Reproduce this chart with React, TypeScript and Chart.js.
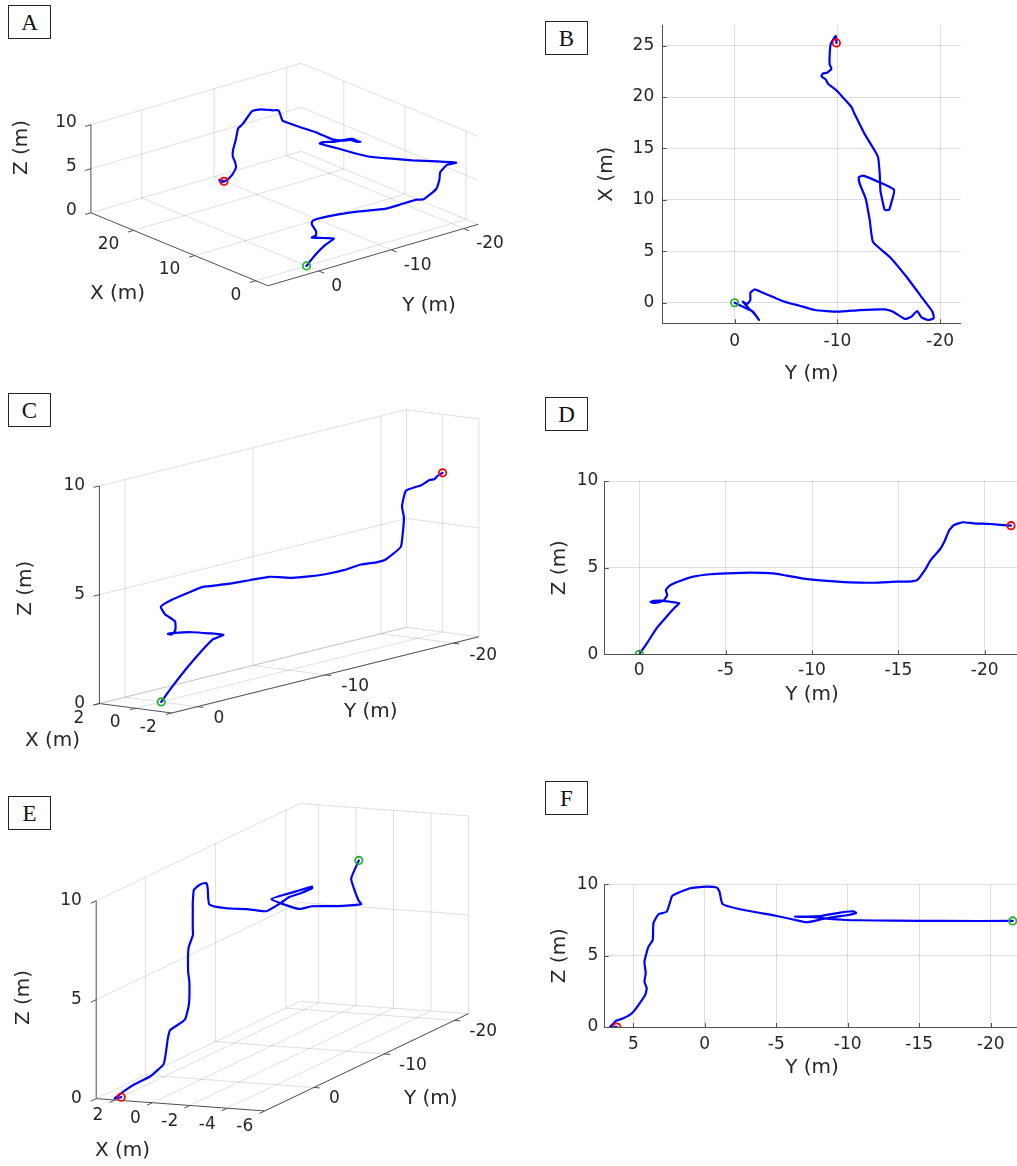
import React, { useEffect, useRef } from "react";
import { Chart, registerables } from "chart.js";

Chart.register(...registerables);

// ================= DATA =================
// Trajectory 1 (panels A and B)
const T1_X = [0, -0.39, -0.87, -1.68, -1.1, -0.55, 0.1, -0.13, 0.26, 0.97, 1.29, 0.97, 0.42, 0.0, -0.29, -0.71, -0.87, -0.71, -0.65, -0.87, -1.58, -1.35, -0.81, -1.42, -1.68, -1.52, -0.87, 0.35, 2.52, 4.45, 5.9, 8.0, 10.1, 11.55, 12.19, 12.35, 11.77, 10.97, 9.77, 9.03, 9.03, 9.94, 10.9, 12.52, 14.13, 14.77, 16.39, 17.68, 18.0, 18.4, 19.03, 19.94, 20.65, 21.29, 21.71, 21.85, 22.03, 22.29, 22.35, 22.74, 23.16, 24.13, 25.16, 25.65, 25.94, 25.48, 25.26];
const T1_Y = [0, -0.81, -1.79, -2.37, -1.95, -1.4, -0.81, -1.2, -1.53, -1.53, -1.95, -2.76, -4.06, -5.19, -6.33, -7.79, -10.06, -12.18, -14.61, -15.42, -16.56, -17.21, -17.76, -18.18, -18.83, -19.38, -19.25, -18.34, -16.72, -15.1, -13.47, -13.15, -12.76, -12.18, -12.08, -12.5, -13.96, -15.52, -15.26, -15.03, -14.61, -14.38, -14.19, -14.12, -13.96, -13.64, -12.66, -12.01, -11.85, -11.65, -11.36, -10.55, -9.9, -9.09, -8.86, -8.65, -8.44, -8.6, -8.99, -9.42, -9.25, -9.25, -9.35, -9.64, -9.84, -9.9, -9.9];
const T1_Z = [0, 1.1, 2.15, 3.0, 3.0, 3.0, 3.0, 3.2, 3.5, 4.1, 4.3, 4.5, 4.65, 4.7, 4.7, 4.6, 4.3, 4.2, 4.2, 4.1, 5.2, 6.1, 6.6, 7.5, 7.6, 7.5, 7.4, 7.35, 7.25, 7.3, 7.5, 7.4, 7.4, 7.5, 7.5, 7.5, 7.4, 7.6, 7.7, 7.9, 8.0, 8.0, 7.7, 7.4, 7.5, 7.7, 8.1, 8.4, 8.5, 9.6, 9.5, 9.55, 9.3, 7.8, 7.3, 6.0, 4.9, 4.0, 3.2, 2.4, 1.5, 0.6, 0.05, 0, 0, 0, 0];

// Trajectory 2 (panels C and D)
const T2_X = [0, -0.25, -0.72, -1.05, -1.37, -1.8, -1.3, -0.8, -0.2, 0.1, 0.05, 0.2, 0.38, 0.88, 1.28, 1.08, 0.72, 0.6, 0.0, -0.4, -0.5, -0.5, -0.5, -0.5, -0.5, -0.5, -0.5, -0.8, -1.0, -1.54, -1.42, -1.1, -0.82, -0.83, -1.49, -1.56, -1.42, -0.91, -0.33];
const T2_Y = [0, -0.42, -1.0, -1.58, -2.07, -2.32, -1.87, -1.29, -0.81, -0.66, -0.91, -1.39, -1.62, -1.54, -1.78, -2.36, -3.13, -4.09, -5.06, -6.41, -7.76, -8.53, -9.5, -10.66, -12.2, -13.55, -14.9, -15.77, -16.1, -16.54, -16.87, -17.41, -17.66, -17.95, -18.22, -18.76, -19.34, -20.31, -21.52];
const T2_Z = [0, 0.6, 1.5, 2.17, 2.71, 2.94, 3.02, 3.1, 3.08, 3.02, 2.96, 3.08, 3.42, 3.71, 3.98, 4.23, 4.48, 4.62, 4.67, 4.71, 4.67, 4.54, 4.37, 4.25, 4.15, 4.13, 4.19, 4.21, 4.29, 4.87, 5.44, 6.06, 6.5, 7.17, 7.46, 7.62, 7.56, 7.52, 7.42];

// Trajectory 3 (panels E and F)
const T3_X = [-0.32, -1.73, -3.26, -4.32, -4.8, -4.1, -3.13, -2.84, -0.7, -1.54, -2.0, -1.93, -1.57, -1.22, -1.09, -0.79, -0.57, -0.53, -0.4, 0.05, 0.06, 0.07, 0.07, 0.07, 0.03, -0.35, -0.4, -0.53, -0.76, -0.65, -0.65, -0.83, -0.91, -0.66, 0.1, 0.28, 0.31, 0.28, 0.82, 1.44, 1.66, 2.02, 2.15, 1.98];
const T3_Y = [-21.54, -16.69, -13.19, -10.86, -9.93, -8.53, -7.37, -6.32, -8.07, -9.46, -10.4, -10.58, -9.93, -9.23, -8.18, -7.13, -6.32, -5.03, -2.47, -1.24, -1.03, -0.84, -0.14, 0.56, 1.03, 2.19, 2.31, 2.66, 3.24, 3.59, 3.64, 3.94, 4.22, 4.13, 4.22, 4.06, 4.17, 4.64, 5.1, 5.69, 6.2, 6.5, 6.62, 6.15];
const T3_Z = [7.43, 7.43, 7.45, 7.48, 7.5, 7.59, 7.71, 7.73, 7.78, 8.01, 8.11, 7.99, 7.83, 7.73, 7.55, 7.34, 7.5, 7.78, 8.25, 8.62, 9.49, 9.77, 9.84, 9.79, 9.72, 9.25, 9.14, 8.08, 7.9, 7.27, 6.1, 5.63, 4.58, 3.76, 3.18, 2.71, 2.24, 1.54, 0.96, 0.61, 0.44, 0.14, 0, 0];

// Axis limits and ticks
const Z_LIM = [0, 10];
const Z_TICKS = [0, 5, 10];
const Y_TICKS_3D = [0, -10, -20];
const A_XLIM = [-2, 27];
const A_YLIM = [-22, 7];
const A_XTICKS = [0, 10, 20];
const C_XLIM = [-2, 2];
const C_YLIM = [-22, 2];
const C_XTICKS = [2, 0, -2];
const E_XLIM = [-6, 3];
const E_YLIM = [-22, 7];
const E_XTICKS = [2, 0, -2, -4, -6];
const B_HLIM = [-22, 7];
const B_HTICKS = [0, -10, -20];
const B_VLIM = [-2, 27];
const B_VTICKS = [0, 5, 10, 15, 20, 25];
const D_HLIM = [-22, 2];
const D_HTICKS = [0, -5, -10, -15, -20];
const F_HLIM = [-22, 7];
const F_HTICKS = [5, 0, -5, -10, -15, -20];
const PANEL_LETTERS = ["A", "B", "C", "D", "E", "F"];

// ================= STYLE =================
const FONT = '"DejaVu Sans", sans-serif';
const TEXT = "#262626";
const GRID = "rgba(38,38,38,0.15)";
const AXIS = "rgb(80,80,80)";
const BLUE = "rgb(0,0,255)";
const GREEN = "rgb(40,180,40)";
const RED = "rgb(255,0,0)";
const TICK_FS = 17;
const TITLE_FS = 20;
const LINE_W = 2.2;
const TENSION = 0.15;

type Pt = [number, number];
interface View3D {
  xlim: number[]; ylim: number[]; zlim: number[];
  xticks: number[]; yticks: number[]; zticks: number[];
  origin: Pt; ex: Pt; ey: Pt; ez: Pt;
  xOff: Pt; yOff: Pt; zOff: Pt;
  xTitle: Pt; yTitle: Pt; zTitle: Pt;
}

const VIEW_A: View3D = {
  xlim: A_XLIM, ylim: A_YLIM, zlim: Z_LIM,
  xticks: A_XTICKS, yticks: Y_TICKS_3D, zticks: Z_TICKS,
  origin: [87.3, 213.3], ex: [-6.24, -2.59], ey: [-7.41, 2.18], ez: [0, -9.06],
  xOff: [-14.3, 14.5], yOff: [12.5, 15.5], zOff: [-14, -2],
  xTitle: [117.5, 294], yTitle: [429, 305.8], zTitle: [21.7, 147.5],
};
const VIEW_C: View3D = {
  xlim: C_XLIM, ylim: C_YLIM, zlim: Z_LIM,
  xticks: C_XTICKS, yticks: Y_TICKS_3D, zticks: Z_TICKS,
  origin: [96, 317], ex: [-18.5, -2.43], ey: [-13.08, 3.27], ez: [0, -22.4],
  xOff: [-15, 14.6], yOff: [16, 12], zOff: [-14.3, 0],
  xTitle: [52.5, 350.8], yTitle: [370.8, 321.7], zTitle: [25.8, 198.3],
};
const VIEW_E: View3D = {
  xlim: E_XLIM, ylim: E_YLIM, zlim: Z_LIM,
  xticks: E_XTICKS, yticks: Y_TICKS_3D, zticks: Z_TICKS,
  origin: [92.7, 322.3], ex: [-19.14, -1.41], ey: [-7.18, 3.45], ez: [0, -20.37],
  xOff: [-11.5, 16], yOff: [15, 11.5], zOff: [-14.4, 0],
  xTitle: [122.5, 370.3], yTitle: [430.8, 318.3], zTitle: [23.3, 217.5],
};

function project(v: View3D, x: number, y: number, z: number): Pt {
  const dx = x - v.xlim[1];
  const dy = y - v.ylim[1];
  const dz = z - v.zlim[0];
  return [
    v.origin[0] + dx * v.ex[0] + dy * v.ey[0] + dz * v.ez[0],
    v.origin[1] + dx * v.ex[1] + dy * v.ey[1] + dz * v.ez[1],
  ];
}

function axes3dPlugin(v: View3D) {
  return {
    id: "axes3d",
    beforeDatasetsDraw(chart: any) {
      const ctx: CanvasRenderingContext2D = chart.ctx;
      const sx = chart.scales.x;
      const sy = chart.scales.y;
      const P = (x: number, y: number, z: number): Pt => {
        const p = project(v, x, y, z);
        return [sx.getPixelForValue(p[0]), sy.getPixelForValue(p[1])];
      };
      const seg = (a: Pt, b: Pt, color: string, w: number) => {
        ctx.beginPath();
        ctx.moveTo(a[0], a[1]);
        ctx.lineTo(b[0], b[1]);
        ctx.strokeStyle = color;
        ctx.lineWidth = w;
        ctx.stroke();
      };
      const [x0, x1] = v.xlim;
      const [y0, y1] = v.ylim;
      const [z0, z1] = v.zlim;
      ctx.save();
      // floor
      v.xticks.forEach((t) => seg(P(t, y0, z0), P(t, y1, z0), GRID, 1));
      v.yticks.forEach((t) => seg(P(x0, t, z0), P(x1, t, z0), GRID, 1));
      // back wall x = xmax
      v.yticks.forEach((t) => seg(P(x1, t, z0), P(x1, t, z1), GRID, 1));
      v.zticks.forEach((t) => seg(P(x1, y0, t), P(x1, y1, t), GRID, 1));
      // back wall y = ymin
      v.xticks.forEach((t) => seg(P(t, y0, z0), P(t, y0, z1), GRID, 1));
      v.zticks.forEach((t) => seg(P(x0, y0, t), P(x1, y0, t), GRID, 1));
      // axis lines
      seg(P(x0, y1, z0), P(x1, y1, z0), AXIS, 1);
      seg(P(x0, y0, z0), P(x0, y1, z0), AXIS, 1);
      seg(P(x1, y1, z0), P(x1, y1, z1), AXIS, 1);
      // tick marks (outward)
      const unit = (d: Pt): Pt => {
        const l = Math.hypot(d[0], d[1]);
        return [d[0] / l, d[1] / l];
      };
      const uY = unit(v.ey);
      const uMX = unit([-v.ex[0], -v.ex[1]]);
      const TL = 6;
      v.xticks.forEach((t) => {
        const p = P(t, y1, z0);
        seg(p, [p[0] + uY[0] * TL, p[1] + uY[1] * TL], AXIS, 1);
      });
      v.yticks.forEach((t) => {
        const p = P(x0, t, z0);
        seg(p, [p[0] + uMX[0] * TL, p[1] + uMX[1] * TL], AXIS, 1);
      });
      v.zticks.forEach((t) => {
        const p = P(x1, y1, t);
        seg(p, [p[0] + uY[0] * TL, p[1] + uY[1] * TL], AXIS, 1);
      });
      // tick labels
      ctx.fillStyle = TEXT;
      ctx.font = `${TICK_FS}px ${FONT}`;
      ctx.textBaseline = "middle";
      ctx.textAlign = "right";
      v.xticks.forEach((t) => {
        const p = P(t, y1, z0);
        ctx.fillText(String(t), p[0] + v.xOff[0], p[1] + v.xOff[1]);
      });
      ctx.textAlign = "left";
      v.yticks.forEach((t) => {
        const p = P(x0, t, z0);
        ctx.fillText(String(t), p[0] + v.yOff[0], p[1] + v.yOff[1]);
      });
      ctx.textAlign = "right";
      v.zticks.forEach((t) => {
        const p = P(x1, y1, t);
        ctx.fillText(String(t), p[0] + v.zOff[0], p[1] + v.zOff[1]);
      });
      // axis titles
      ctx.font = `${TITLE_FS}px ${FONT}`;
      ctx.textAlign = "center";
      ctx.fillText("X (m)", v.xTitle[0], v.xTitle[1]);
      ctx.fillText("Y (m)", v.yTitle[0], v.yTitle[1]);
      ctx.save();
      ctx.translate(v.zTitle[0], v.zTitle[1]);
      ctx.rotate(-Math.PI / 2);
      ctx.fillText("Z (m)", 0, 0);
      ctx.restore();
      ctx.restore();
    },
  };
}

function markerSets(first: any, last: any) {
  return [
    { data: [first], showLine: false, pointRadius: 3.7, pointHoverRadius: 3.7, pointBorderWidth: 1.8, pointBorderColor: GREEN, pointBackgroundColor: "rgba(0,0,0,0)", borderColor: GREEN, backgroundColor: "rgba(0,0,0,0)" },
    { data: [last], showLine: false, pointRadius: 3.7, pointHoverRadius: 3.7, pointBorderWidth: 1.8, pointBorderColor: RED, pointBackgroundColor: "rgba(0,0,0,0)", borderColor: RED, backgroundColor: "rgba(0,0,0,0)" },
  ];
}

function lineSet(pts: any[]) {
  return { data: pts, showLine: true, borderColor: BLUE, borderWidth: LINE_W, pointRadius: 0, pointHoverRadius: 0, tension: TENSION, backgroundColor: BLUE, borderJoinStyle: "round", borderCapStyle: "round" };
}

function Panel3D(props: { view: View3D; xs: number[]; ys: number[]; zs: number[]; left: number; top: number; width: number; height: number }) {
  const ref = useRef<HTMLCanvasElement>(null);
  useEffect(() => {
    const { view, xs, ys, zs, width, height } = props;
    const n = Math.min(xs.length, ys.length, zs.length);
    const pts: any[] = [];
    for (let i = 0; i < n; i++) {
      const p = project(view, xs[i], ys[i], zs[i]);
      pts.push({ x: p[0], y: p[1] });
    }
    const chart = new Chart(ref.current as HTMLCanvasElement, {
      type: "scatter",
      data: { datasets: [...markerSets(pts[0], pts[n - 1]), lineSet(pts)] as any },
      options: {
        responsive: false,
        maintainAspectRatio: false,
        animation: false,
        events: [],
        layout: { padding: 0 },
        plugins: { legend: { display: false }, tooltip: { enabled: false } },
        scales: {
          x: { type: "linear", min: 0, max: width, display: false },
          y: { type: "linear", min: 0, max: height, reverse: true, display: false },
        },
      } as any,
      plugins: [axes3dPlugin(view)],
    });
    return () => chart.destroy();
  }, []);
  return (
    <canvas
      ref={ref}
      width={props.width}
      height={props.height}
      style={{ position: "absolute", left: props.left, top: props.top, width: props.width, height: props.height }}
    />
  );
}

interface View2D {
  hlim: number[]; hticks: number[]; vlim: number[]; vticks: number[];
  hTitle: string; vTitle: string;
  area: { left: number; top: number; right: number; bottom: number };
  hTickPad: number; vTickPad: number; hTitleY: number; vTitleX: number;
}

const inwardTicks = {
  id: "inwardTicks",
  afterDatasetsDraw(chart: any) {
    const { ctx, chartArea: a, scales } = chart;
    const sx = scales.x;
    const sy = scales.y;
    ctx.save();
    ctx.strokeStyle = AXIS;
    ctx.lineWidth = 1;
    ctx.beginPath();
    sx.ticks.forEach((t: any) => {
      const px = Math.round(sx.getPixelForValue(t.value)) + 0.5;
      ctx.moveTo(px, a.bottom);
      ctx.lineTo(px, a.bottom - 4);
    });
    sy.ticks.forEach((t: any) => {
      const py = Math.round(sy.getPixelForValue(t.value)) + 0.5;
      ctx.moveTo(a.left, py);
      ctx.lineTo(a.left + 4, py);
    });
    ctx.stroke();
    ctx.restore();
  },
};

function Panel2D(props: { view: View2D; hs: number[]; vs: number[]; left: number; top: number; width: number; height: number }) {
  const ref = useRef<HTMLCanvasElement>(null);
  useEffect(() => {
    const { view: v, hs, vs, width, height } = props;
    const n = Math.min(hs.length, vs.length);
    const pts: any[] = [];
    for (let i = 0; i < n; i++) pts.push({ x: hs[i], y: vs[i] });
    const lh = TITLE_FS * 1.2;
    const chart = new Chart(ref.current as HTMLCanvasElement, {
      type: "scatter",
      data: { datasets: [...markerSets(pts[0], pts[n - 1]), lineSet(pts)] as any },
      options: {
        responsive: false,
        maintainAspectRatio: false,
        animation: false,
        events: [],
        layout: { padding: { left: 0, top: v.area.top, right: width - v.area.right, bottom: 0 } },
        plugins: { legend: { display: false }, tooltip: { enabled: false } },
        scales: {
          x: {
            type: "linear",
            min: v.hlim[0],
            max: v.hlim[1],
            reverse: true,
            afterBuildTicks: (s: any) => { s.ticks = v.hticks.map((t) => ({ value: t })); },
            afterFit: (s: any) => { s.height = height - v.area.bottom; },
            grid: { color: GRID, lineWidth: 1, drawTicks: false },
            border: { display: true, color: AXIS, width: 1 },
            ticks: { padding: v.hTickPad, color: TEXT, font: { family: FONT, size: TICK_FS }, maxRotation: 0, autoSkip: false, callback: (val: any) => String(val) },
            title: { display: true, text: v.hTitle, color: TEXT, font: { family: FONT, size: TITLE_FS }, padding: { top: 0, bottom: height - v.hTitleY - lh / 2 } },
          },
          y: {
            type: "linear",
            min: v.vlim[0],
            max: v.vlim[1],
            afterBuildTicks: (s: any) => { s.ticks = v.vticks.map((t) => ({ value: t })); },
            afterFit: (s: any) => { s.width = v.area.left; },
            grid: { color: GRID, lineWidth: 1, drawTicks: false },
            border: { display: true, color: AXIS, width: 1 },
            ticks: { padding: v.vTickPad, color: TEXT, font: { family: FONT, size: TICK_FS }, autoSkip: false, callback: (val: any) => String(val) },
            title: { display: true, text: v.vTitle, color: TEXT, font: { family: FONT, size: TITLE_FS }, padding: { top: v.vTitleX - lh / 2, bottom: 0 } },
          },
        },
      } as any,
      plugins: [inwardTicks],
    });
    return () => chart.destroy();
  }, []);
  return (
    <canvas
      ref={ref}
      width={props.width}
      height={props.height}
      style={{ position: "absolute", left: props.left, top: props.top, width: props.width, height: props.height }}
    />
  );
}

const VIEW_B: View2D = {
  hlim: B_HLIM, hticks: B_HTICKS, vlim: B_VLIM, vticks: B_VTICKS,
  hTitle: "Y (m)", vTitle: "X (m)",
  area: { left: 152.7, top: 25, right: 450.7, bottom: 323.3 },
  hTickPad: 8, vTickPad: 8.5, hTitleY: 373.7, vTitleX: 96.7,
};
const VIEW_D: View2D = {
  hlim: D_HLIM, hticks: D_HTICKS, vlim: Z_LIM, vticks: Z_TICKS,
  hTitle: "Y (m)", vTitle: "Z (m)",
  area: { left: 94.7, top: 91, right: 509.3, bottom: 264.3 },
  hTickPad: 5.8, vTickPad: 6.4, hTitleY: 305, vTitleX: 50,
};
const VIEW_F: View2D = {
  hlim: F_HLIM, hticks: F_HTICKS, vlim: Z_LIM, vticks: Z_TICKS,
  hTitle: "Y (m)", vTitle: "Z (m)",
  area: { left: 94.7, top: 104.3, right: 509.3, bottom: 247 },
  hTickPad: 7, vTickPad: 6.4, hTitleY: 288, vTitleX: 50,
};

const LABEL_POS: Pt[] = [[8, 5], [545, 21], [8, 393], [545, 397], [8, 796], [545, 781]];

export default function App() {
  return (
    <div style={{ position: "absolute", left: 0, top: 0, width: 1017, height: 1166, overflow: "hidden", background: "#ffffff" }}>
      <Panel3D view={VIEW_A} xs={T1_X} ys={T1_Y} zs={T1_Z} left={0} top={0} width={507} height={390} />
      <Panel2D view={VIEW_B} hs={T1_Y} vs={T1_X} left={510} top={0} width={507} height={390} />
      <Panel3D view={VIEW_C} xs={T2_X} ys={T2_Y} zs={T2_Z} left={0} top={390} width={507} height={390} />
      <Panel2D view={VIEW_D} hs={T2_Y} vs={T2_Z} left={510} top={390} width={520} height={390} />
      <Panel3D view={VIEW_E} xs={T3_X} ys={T3_Y} zs={T3_Z} left={0} top={780} width={507} height={386} />
      <Panel2D view={VIEW_F} hs={T3_Y} vs={T3_Z} left={510} top={780} width={520} height={386} />
      {PANEL_LETTERS.map((L, i) => (
        <div
          key={L}
          style={{
            position: "absolute",
            left: LABEL_POS[i][0],
            top: LABEL_POS[i][1],
            width: 43,
            height: 34,
            boxSizing: "border-box",
            border: "1px solid #222",
            background: "#fff",
            display: "flex",
            alignItems: "center",
            justifyContent: "center",
            fontFamily: '"Liberation Serif", serif',
            fontSize: 23,
            color: "#111",
            lineHeight: 1,
          }}
        >
          {L}
        </div>
      ))}
    </div>
  );
}
